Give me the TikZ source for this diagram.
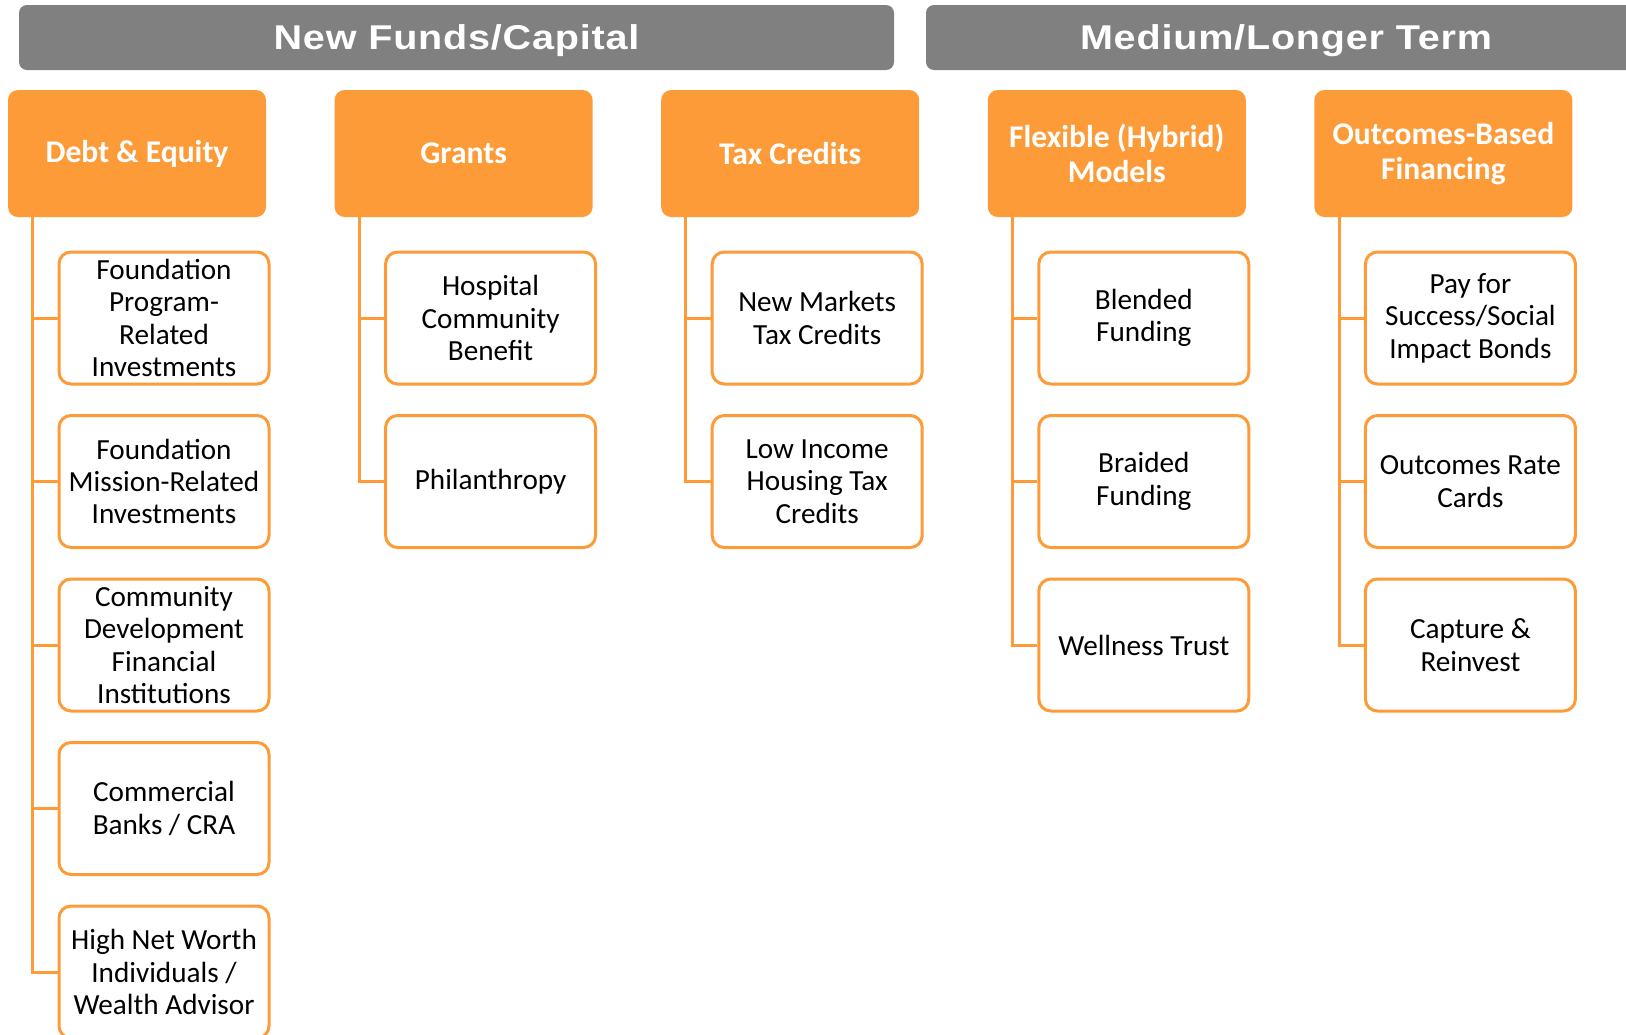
\documentclass[tikz,border=0pt]{standalone}
\usepackage{fontspec}
\setmainfont{Carlito}
\newfontfamily\bandfont[LetterSpace=2]{Liberation Sans}
\usepackage{tikz}
\definecolor{fundorange}{RGB}{253,155,57}
\definecolor{bandgray}{RGB}{128,128,128}
\newcommand{\bandtext}[1]{\scalebox{1.15}[1]{#1}}

\begin{document}
\begin{tikzpicture}[x=0.5pt,y=-0.5pt,
  band/.style={fill=bandgray, rounded corners=4pt, minimum height=32.5pt, text=white,
    text height=12.2pt, text depth=0pt, font=\bandfont\fontsize{17.2}{19}\selectfont\bfseries},
  head/.style={fill=fundorange, rounded corners=5pt, minimum width=129pt, minimum height=63.5pt,
    text=white, align=center, font=\fontsize{15.8}{17.6}\selectfont\bfseries},
  item/.style={draw=fundorange, line width=1.5pt, fill=white, rounded corners=6pt,
    minimum width=105pt, minimum height=66pt, inner sep=0pt, align=center,
    font=\fontsize{14.6}{16.2}\selectfont},
  branch/.style={draw=fundorange, line width=1.5pt}]
\clip (0,0) rectangle (1626,1034);

% banners
\node [band, minimum width=437.5pt] (newfunds) at (456.5,37.5) {\bandtext{New Funds/Capital}};
\node [band, minimum width=360pt] (medterm) at (1286,37.5) {\bandtext{Medium/Longer Term}};

% column headers
\node [head] (debt) at (137,153.5) {Debt \& Equity};
\node [head] (grants) at (463.6,153.5) {Grants};
\node [head] (tax) at (790.2,153.5) {Tax Credits};
\node [head] (flex) at (1116.8,153.5) {Flexible (Hybrid)\\Models};
\node [head] (outc) at (1443.4,153.5) {Outcomes-Based\\Financing};

% debt & equity
\node [item] (d1) at (164,318) {Foundation\\Program-\\Related\\Investments};
\node [item] (d2) at (164,481.5) {Foundation\\Mission-Related\\Investments};
\node [item] (d3) at (164,645) {Community\\Development\\Financial\\Institutions};
\node [item] (d4) at (164,808.5) {Commercial\\Banks / CRA};
\node [item] (d5) at (164,972) {High Net Worth\\Individuals /\\Wealth Advisor};

% grants
\node [item] (g1) at (490.6,318) {Hospital\\Community\\Benefit};
\node [item] (g2) at (490.6,481.5) {Philanthropy};

% tax credits
\node [item] (t1) at (817.2,318) {New Markets\\Tax Credits};
\node [item] (t2) at (817.2,481.5) {Low Income\\Housing Tax\\Credits};

% hybrid models
\node [item] (f1) at (1143.8,318) {Blended\\Funding};
\node [item] (f2) at (1143.8,481.5) {Braided\\Funding};
\node [item] (f3) at (1143.8,645) {Wellness Trust};

% outcomes-based
\node [item] (o1) at (1470.4,318) {Pay for\\Success/Social\\Impact Bonds};
\node [item] (o2) at (1470.4,481.5) {Outcomes Rate\\Cards};
\node [item] (o3) at (1470.4,645) {Capture \&\\Reinvest};

% branches
\foreach \c in {d1,d2,d3,d4,d5}
  \draw [branch] ([xshift=12.5pt]debt.south west) |- (\c.west);
\foreach \c in {g1,g2}
  \draw [branch] ([xshift=12.5pt]grants.south west) |- (\c.west);
\foreach \c in {t1,t2}
  \draw [branch] ([xshift=12.5pt]tax.south west) |- (\c.west);
\foreach \c in {f1,f2,f3}
  \draw [branch] ([xshift=12.5pt]flex.south west) |- (\c.west);
\foreach \c in {o1,o2,o3}
  \draw [branch] ([xshift=12.5pt]outc.south west) |- (\c.west);
\end{tikzpicture}
\end{document}
